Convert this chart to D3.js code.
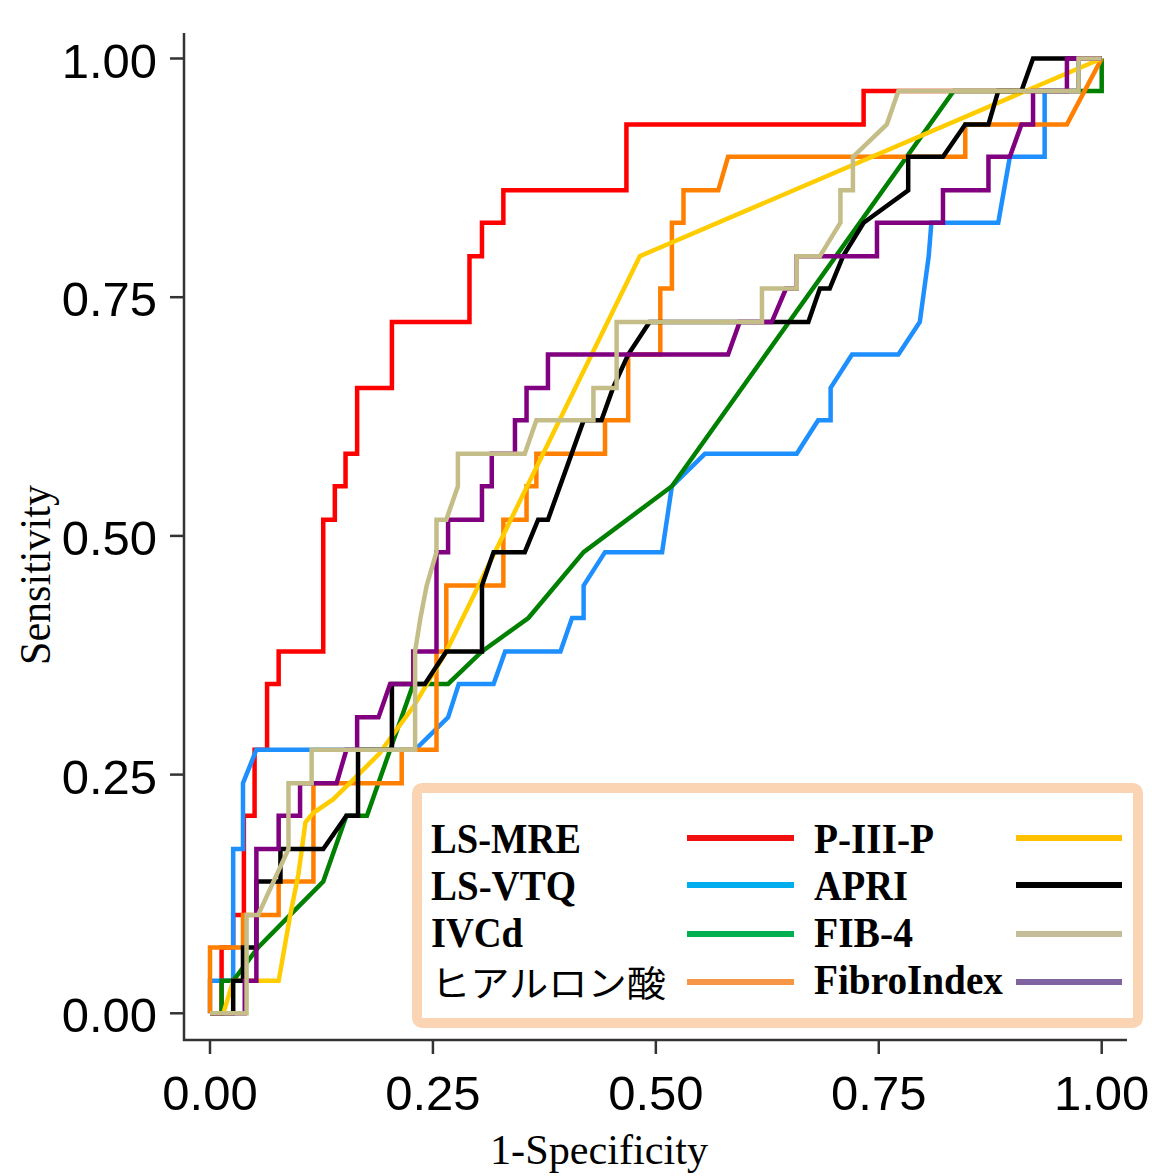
<!DOCTYPE html>
<html>
<head>
<meta charset="utf-8">
<script src="https://cdn.jsdelivr.net/npm/d3@7"></script>
<style>
  html, body { margin: 0; padding: 0; background: #fff; }
  svg { display: block; }
</style>
</head>
<body>
<svg id="chart" width="1152" height="1176"></svg>
<script>
// ROC curves: [1-specificity, sensitivity]
const lsMre = [[0,0],[0.013,0],[0.013,0.069],[0.026,0.069],[0.026,0.103],[0.038,0.103],[0.038,0.207],[0.050,0.207],[0.050,0.276],[0.064,0.276],[0.064,0.345],[0.077,0.345],[0.077,0.379],[0.127,0.379],[0.127,0.517],[0.140,0.517],[0.140,0.552],[0.152,0.552],[0.152,0.586],[0.165,0.586],[0.165,0.655],[0.204,0.655],[0.204,0.724],[0.291,0.724],[0.291,0.793],[0.305,0.793],[0.305,0.828],[0.329,0.828],[0.329,0.862],[0.467,0.862],[0.467,0.931],[0.733,0.931],[0.733,0.966],[0.974,0.966],[0.974,1],[1,1]];

const lsVtq = [[0,0],[0,0.034],[0.026,0.034],[0.026,0.172],[0.037,0.172],[0.037,0.241],[0.052,0.276],[0.230,0.276],[0.267,0.310],[0.279,0.345],[0.318,0.345],[0.331,0.379],[0.393,0.379],[0.406,0.414],[0.419,0.414],[0.419,0.448],[0.443,0.483],[0.507,0.483],[0.518,0.552],[0.555,0.586],[0.658,0.586],[0.682,0.621],[0.696,0.621],[0.696,0.655],[0.720,0.690],[0.772,0.690],[0.796,0.724],[0.806,0.793],[0.809,0.828],[0.884,0.828],[0.897,0.897],[0.936,0.897],[0.936,0.966],[0.974,0.966],[0.974,1],[1,1]];

const ivcd = [[0,0],[0.013,0],[0.013,0.034],[0.026,0.034],[0.054,0.069],[0.090,0.103],[0.127,0.138],[0.153,0.207],[0.176,0.207],[0.228,0.345],[0.267,0.345],[0.305,0.379],[0.357,0.414],[0.419,0.483],[0.518,0.552],[0.834,0.966],[1,0.966],[1,1]];

const hyaluronicAcid = [[0,0],[0,0.069],[0.037,0.069],[0.037,0.103],[0.077,0.103],[0.077,0.138],[0.116,0.138],[0.116,0.241],[0.215,0.241],[0.215,0.276],[0.254,0.276],[0.254,0.379],[0.265,0.379],[0.265,0.448],[0.329,0.448],[0.329,0.517],[0.355,0.517],[0.355,0.552],[0.366,0.552],[0.366,0.586],[0.443,0.586],[0.443,0.621],[0.469,0.621],[0.469,0.690],[0.505,0.690],[0.505,0.759],[0.518,0.759],[0.518,0.828],[0.531,0.828],[0.531,0.862],[0.570,0.862],[0.581,0.897],[0.847,0.897],[0.847,0.931],[0.961,0.931],[1,1]];

const p3p = [[0,0],[0.015,0],[0.026,0.034],[0.077,0.034],[0.090,0.103],[0.099,0.145],[0.103,0.172],[0.107,0.200],[0.116,0.210],[0.138,0.224],[0.161,0.245],[0.190,0.272],[0.206,0.293],[0.228,0.321],[0.265,0.379],[0.482,0.793],[1,1]];

const apri = [[0,0],[0.026,0],[0.026,0.034],[0.037,0.034],[0.037,0.069],[0.052,0.069],[0.052,0.138],[0.079,0.138],[0.079,0.172],[0.127,0.172],[0.153,0.207],[0.166,0.207],[0.166,0.276],[0.204,0.276],[0.204,0.345],[0.241,0.345],[0.265,0.379],[0.305,0.379],[0.305,0.448],[0.318,0.483],[0.353,0.483],[0.368,0.517],[0.379,0.517],[0.419,0.621],[0.439,0.621],[0.452,0.655],[0.469,0.690],[0.493,0.724],[0.671,0.724],[0.684,0.759],[0.695,0.759],[0.710,0.793],[0.733,0.828],[0.783,0.862],[0.783,0.897],[0.822,0.897],[0.847,0.931],[0.873,0.931],[0.884,0.966],[0.910,0.966],[0.923,1],[1,1]];

const fib4 = [[0,0],[0.041,0],[0.041,0.103],[0.054,0.103],[0.088,0.172],[0.088,0.241],[0.114,0.241],[0.114,0.276],[0.230,0.276],[0.230,0.379],[0.236,0.414],[0.243,0.448],[0.254,0.483],[0.254,0.517],[0.265,0.517],[0.278,0.552],[0.278,0.586],[0.353,0.586],[0.366,0.621],[0.430,0.621],[0.430,0.655],[0.456,0.655],[0.456,0.724],[0.619,0.724],[0.619,0.759],[0.658,0.759],[0.658,0.793],[0.684,0.793],[0.707,0.828],[0.707,0.862],[0.721,0.862],[0.721,0.897],[0.759,0.931],[0.772,0.966],[0.974,0.966],[0.974,1],[1,1]];

const fibroIndex = [[0,0],[0.039,0],[0.039,0.034],[0.052,0.034],[0.052,0.172],[0.077,0.172],[0.077,0.207],[0.101,0.207],[0.101,0.241],[0.142,0.241],[0.153,0.276],[0.165,0.276],[0.165,0.310],[0.189,0.310],[0.202,0.345],[0.228,0.345],[0.228,0.379],[0.254,0.379],[0.254,0.483],[0.267,0.483],[0.267,0.517],[0.305,0.517],[0.305,0.552],[0.316,0.552],[0.316,0.586],[0.342,0.586],[0.342,0.621],[0.355,0.621],[0.355,0.655],[0.379,0.655],[0.379,0.690],[0.581,0.690],[0.594,0.724],[0.630,0.724],[0.646,0.759],[0.658,0.759],[0.658,0.793],[0.748,0.793],[0.748,0.828],[0.822,0.828],[0.822,0.862],[0.873,0.862],[0.873,0.897],[0.897,0.897],[0.910,0.931],[0.923,0.931],[0.923,0.966],[0.961,0.966],[0.961,1],[1,1]];

// Series names, in drawing order
const seriesNames = ["LS-MRE", "LS-VTQ", "IVCd", "ヒアルロン酸", "P-III-P", "APRI", "FibroIndex", "FIB-4"];
const seriesData = [lsMre, lsVtq, ivcd, hyaluronicAcid, p3p, apri, fibroIndex, fib4];
const lineColors = ["#ff0000", "#1e8fff", "#008000", "#ff8000", "#ffcc00", "#000000", "#800080", "#c4bd88"];

// Legend layout: two columns, four rows
const legendLeft = ["LS-MRE", "LS-VTQ", "IVCd", "ヒアルロン酸"];
const legendRight = ["P-III-P", "APRI", "FIB-4", "FibroIndex"];
const legendColors = {
  "LS-MRE": "#f01010", "LS-VTQ": "#00aeef", "IVCd": "#00b050", "ヒアルロン酸": "#f79646",
  "P-III-P": "#ffc000", "APRI": "#000000", "FIB-4": "#c4bd97", "FibroIndex": "#8064a2"
};
const legendWidths = {
  "LS-MRE": 150, "LS-VTQ": 145, "IVCd": 92, "ヒアルロン酸": 235,
  "P-III-P": 120, "APRI": 94, "FIB-4": 99, "FibroIndex": 189
};

const tickValues = [0, 0.25, 0.5, 0.75, 1];
const tickLabels = ["0.00", "0.25", "0.50", "0.75", "1.00"];
const xTitle = "1-Specificity";
const yTitle = "Sensitivity";

const svg = d3.select("#chart");
const x = d3.scaleLinear().domain([0, 1]).range([210, 1101.7]);
const y = d3.scaleLinear().domain([0, 1]).range([1013.3, 58.5]);

const axisColor = "#333";
const axisLeftX = 184, axisBottomY = 1040;

// Axis lines
svg.append("line").attr("x1", axisLeftX).attr("x2", axisLeftX).attr("y1", 33).attr("y2", axisBottomY + 1)
  .attr("stroke", axisColor).attr("stroke-width", 2.5);
svg.append("line").attr("x1", axisLeftX - 1).attr("x2", 1127).attr("y1", axisBottomY).attr("y2", axisBottomY)
  .attr("stroke", axisColor).attr("stroke-width", 2.5);

// Y ticks and labels
const yt = svg.append("g");
yt.selectAll("line").data(tickValues).join("line")
  .attr("x1", axisLeftX - 14).attr("x2", axisLeftX)
  .attr("y1", d => y(d)).attr("y2", d => y(d))
  .attr("stroke", axisColor).attr("stroke-width", 2.5);
yt.selectAll("text").data(tickValues).join("text")
  .attr("x", 157).attr("y", d => y(d) + 19)
  .attr("text-anchor", "end")
  .attr("font-family", "Liberation Sans, Arial, sans-serif")
  .attr("font-size", 49)
  .attr("fill", "#000")
  .text((d, i) => tickLabels[i]);

// X ticks and labels
const xt = svg.append("g");
xt.selectAll("line").data(tickValues).join("line")
  .attr("x1", d => x(d)).attr("x2", d => x(d))
  .attr("y1", axisBottomY).attr("y2", axisBottomY + 14)
  .attr("stroke", axisColor).attr("stroke-width", 2.5);
xt.selectAll("text").data(tickValues).join("text")
  .attr("x", d => x(d)).attr("y", 1110)
  .attr("text-anchor", "middle")
  .attr("font-family", "Liberation Sans, Arial, sans-serif")
  .attr("font-size", 49)
  .attr("fill", "#000")
  .text((d, i) => tickLabels[i]);

// Axis titles
svg.append("text")
  .attr("x", 599).attr("y", 1164)
  .attr("text-anchor", "middle")
  .attr("font-family", "Liberation Serif, Times New Roman, serif")
  .attr("font-size", 43)
  .attr("textLength", 218).attr("lengthAdjust", "spacingAndGlyphs")
  .text(xTitle);
svg.append("text")
  .attr("transform", "translate(50,575) rotate(-90)")
  .attr("text-anchor", "middle")
  .attr("font-family", "Liberation Serif, Times New Roman, serif")
  .attr("font-size", 44)
  .attr("textLength", 180).attr("lengthAdjust", "spacingAndGlyphs")
  .text(yTitle);

// ROC curves
const line = d3.line().x(d => x(d[0])).y(d => y(d[1]));
svg.append("g").selectAll("path").data(seriesData).join("path")
  .attr("d", line)
  .attr("fill", "none")
  .attr("stroke", (d, i) => lineColors[i])
  .attr("stroke-width", 4.5)
  .attr("stroke-linejoin", "miter")
  .attr("stroke-miterlimit", 2);

// Legend
const lg = svg.append("g");
lg.append("rect")
  .attr("x", 417).attr("y", 788).attr("width", 721).attr("height", 235).attr("rx", 5)
  .attr("fill", "#fff").attr("stroke", "#fbd4b4").attr("stroke-width", 10);

const rowBase = [853, 900, 947, 994];
const rowLine = [838, 885, 934, 982];

function legendColumn(names, textX, lineX1, lineX2) {
  names.forEach((name, i) => {
    const cjk = /[^\x00-\x7f]/.test(name);
    lg.append("text")
      .attr("x", textX).attr("y", cjk ? rowBase[i] + 3 : rowBase[i])
      .attr("font-family", cjk ? "Noto Sans CJK JP, sans-serif" : "Liberation Serif, Times New Roman, serif")
      .attr("font-weight", cjk ? 400 : 700)
      .attr("font-size", cjk ? 36 : 42)
      .attr("textLength", legendWidths[name]).attr("lengthAdjust", "spacingAndGlyphs")
      .attr("fill", "#000")
      .text(name);
    lg.append("line")
      .attr("x1", lineX1).attr("x2", lineX2)
      .attr("y1", rowLine[i]).attr("y2", rowLine[i])
      .attr("stroke", legendColors[name]).attr("stroke-width", 6);
  });
}
legendColumn(legendLeft, 431, 687, 794);
legendColumn(legendRight, 814, 1016, 1122);
</script>
</body>
</html>
